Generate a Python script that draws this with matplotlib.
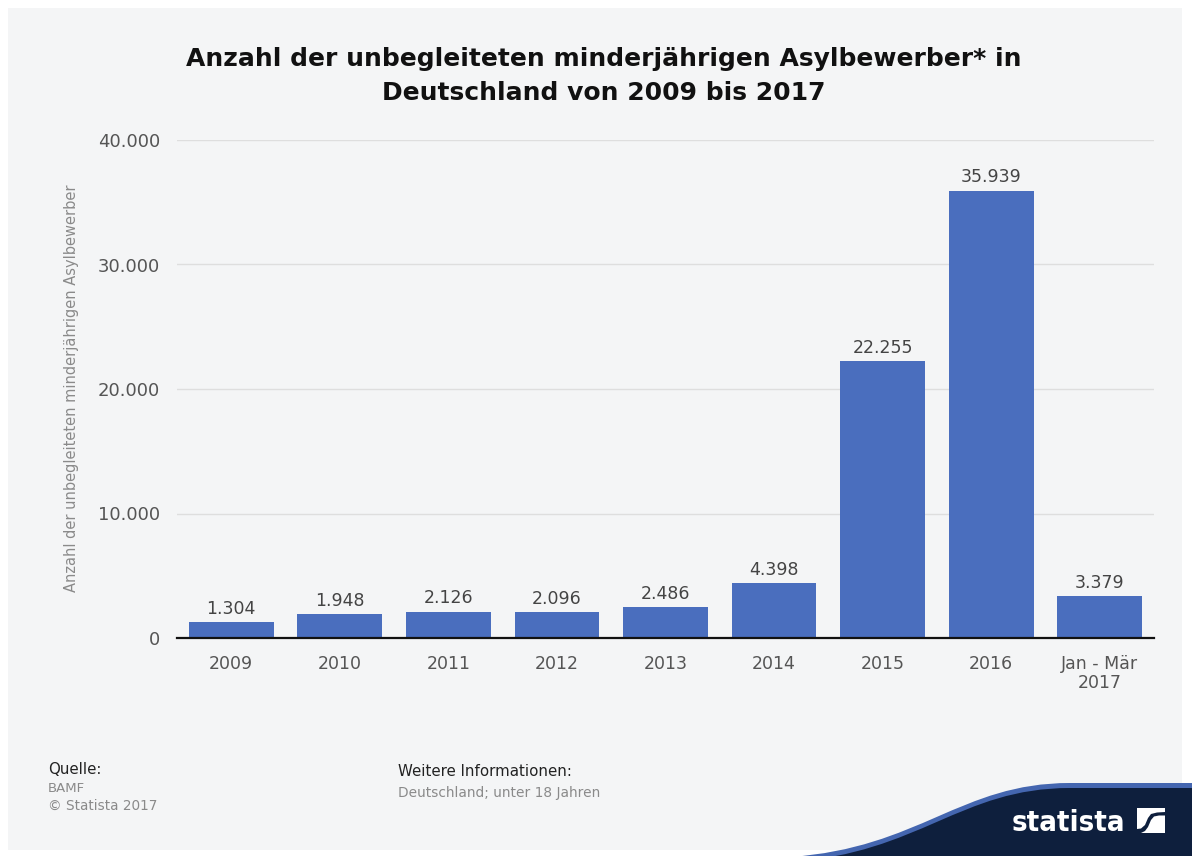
import matplotlib
matplotlib.use("Agg")
import matplotlib.pyplot as plt
from matplotlib.patches import PathPatch, Rectangle, Polygon
from matplotlib.path import Path

categories = ["2009", "2010", "2011", "2012", "2013", "2014", "2015", "2016", "Jan - Mär\n2017"]
values = [1304, 1948, 2126, 2096, 2486, 4398, 22255, 35939, 3379]
y_ticks = [0, 10000, 20000, 30000, 40000]

title = "Anzahl der unbegleiteten minderjährigen Asylbewerber* in\nDeutschland von 2009 bis 2017"
y_label = "Anzahl der unbegleiteten minderjährigen Asylbewerber"

W, H = 1192, 856
BAR = "#4a6ebe"
PANEL = "#f4f5f6"


def fmt(v):
    return f"{v:,}".replace(",", ".")


def fx(px):
    return px / W


def fy(py):
    return 1 - py / H


plt.rcParams["font.family"] = ["DejaVu Sans"]
fig = plt.figure(figsize=(W / 100, H / 100), dpi=100, facecolor="white")

# light panel behind everything
fig.add_artist(Rectangle((fx(8), fy(850)), fx(1182) - fx(8), fy(8) - fy(850),
                         transform=fig.transFigure, facecolor=PANEL,
                         edgecolor="none", zorder=0))

ax = fig.add_axes([fx(177), fy(638), fx(1154) - fx(177), fy(140) - fy(638)])
ax.patch.set_alpha(0)

x = list(range(len(categories)))
ax.bar(x, values, width=0.78, color=BAR, zorder=3)
for xi, v in zip(x, values):
    ax.annotate(fmt(v), (xi, v), xytext=(0, 3), textcoords="offset points",
                ha="center", va="bottom", fontsize=12.5, color="#444444", zorder=4)

ax.set_xlim(-0.5, len(categories) - 0.5)
ax.set_ylim(0, 40000)
ax.set_yticks(y_ticks)
ax.set_yticklabels([fmt(t) for t in y_ticks], fontsize=13, color="#555555")
ax.set_xticks(x)
ax.set_xticklabels(categories, fontsize=12.5, color="#555555", linespacing=1.1)
ax.tick_params(axis="y", length=0, pad=12)
ax.tick_params(axis="x", length=0, pad=12)
ax.grid(axis="y", color="#dedede", linewidth=1, zorder=0)
for s in ["top", "right", "left"]:
    ax.spines[s].set_visible(False)
ax.spines["bottom"].set_color("#111111")
ax.spines["bottom"].set_linewidth(1.6)
ax.spines["bottom"].set_zorder(5)

fig.text(fx(72), fy(388), y_label, rotation=90, ha="center", va="center",
         fontsize=10.5, color="#8a8a8a")

fig.text(fx(604), fy(76), title, ha="center", va="center", fontsize=18,
         fontweight="bold", color="#111111", linespacing=1.5)

# footer notes
fig.text(fx(48), fy(770), "Quelle:", fontsize=10.8, color="#222222", va="center")
fig.text(fx(48), fy(788), "BAMF", fontsize=9.5, color="#8a8a8a", va="center")
fig.text(fx(48), fy(806), "© Statista 2017", fontsize=9.8, color="#8a8a8a", va="center")
fig.text(fx(398), fy(772), "Weitere Informationen:", fontsize=10.8, color="#222222", va="center")
fig.text(fx(398), fy(793), "Deutschland; unter 18 Jahren", fontsize=9.9, color="#8a8a8a", va="center")


def wave(dy):
    pts = [(790, 857 + dy), (920, 848 + dy), (960, 783 + dy), (1070, 783 + dy),
           (1192, 783 + dy), (1192, 857), (790, 857), (790, 857 + dy)]
    codes = [Path.MOVETO, Path.CURVE4, Path.CURVE4, Path.CURVE4,
             Path.LINETO, Path.LINETO, Path.LINETO, Path.CLOSEPOLY]
    return Path([(fx(a), fy(b)) for a, b in pts], codes)


fig.add_artist(PathPatch(wave(0), transform=fig.transFigure,
                         facecolor="#4466b0", edgecolor="none", zorder=1))
fig.add_artist(PathPatch(wave(5), transform=fig.transFigure,
                         facecolor="#0e1f3d", edgecolor="none", zorder=2))

fig.text(fx(1068), fy(823), "statista", ha="center", va="center", fontsize=21,
         fontweight="bold", color="white", fontstretch="condensed", zorder=3)

# logo mark: a white square split by a curved dark band
icon_a = [(1137, 808), (1165, 808), (1165, 812), (1157, 812.5), (1151, 814),
          (1148, 818), (1145, 825), (1141, 828.5), (1137, 829)]
icon_b = [(1165, 833), (1141, 833), (1145, 831), (1148, 827), (1151, 820),
          (1154, 816.5), (1159, 815.5), (1165, 815.5)]
for poly in (icon_a, icon_b):
    fig.add_artist(Polygon([(fx(a), fy(b)) for a, b in poly], closed=True,
                           transform=fig.transFigure, facecolor="white",
                           edgecolor="none", zorder=3))

fig.savefig("out.png", dpi=100, facecolor="white")
